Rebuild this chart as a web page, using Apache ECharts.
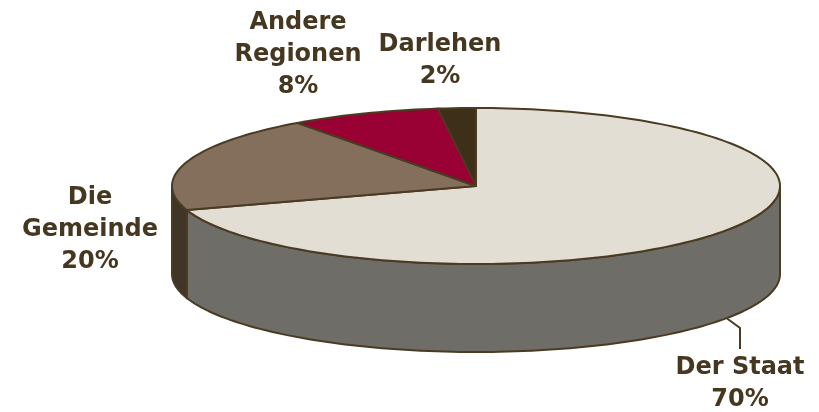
<!DOCTYPE html>
<html>
<head>
<meta charset="utf-8">
<script src="https://cdn.jsdelivr.net/npm/echarts@6/dist/echarts.min.js"></script>
<style>
  html, body { margin: 0; padding: 0; background: #fff; }
  #chart { width: 819px; height: 412px; }
</style>
</head>
<body>
<div id="chart"></div>
<script>
// Anteile (Prozent)
var names = ["Der Staat", "Die\nGemeinde", "Andere\nRegionen", "Darlehen"];
var values = [70, 20, 8, 2];
var pctLabels = ["70%", "20%", "8%", "2%"];

// Farben Oberseite / Seitenwand
var topColors = ["#e2ded4", "#836f5c", "#990033", "#3e3018"];
var sideColors = ["#6e6d67", "#3f3528", "#5c001f", "#2a2010"];
var edgeColor = "#4a3b22";
var textColor = "#463820";

// Ellipsen-Geometrie
var cx = 476, cy = 186, rx = 304, ry = 78, depth = 88;

var total = values.reduce(function (a, b) { return a + b; }, 0);
var starts = [];
var acc = 0;
values.forEach(function (v) { starts.push(acc / total * 360); acc += v; });

function rim(deg, dy) {
  var r = deg * Math.PI / 180;
  return [cx + rx * Math.sin(r), cy - ry * Math.cos(r) + (dy || 0)];
}

function arc(a0, a1, dy) {
  var pts = [];
  var n = Math.max(2, Math.ceil((a1 - a0) / 1.5));
  for (var i = 0; i <= n; i++) pts.push(rim(a0 + (a1 - a0) * i / n, dy));
  return pts;
}

var chart = echarts.init(document.getElementById("chart"));

var option = {
  backgroundColor: "#fff",
  animation: false,
  series: [
    {
      type: "custom",
      coordinateSystem: "none",
      data: values,
      renderItem: function (params, api) {
        var i = params.dataIndex;
        var a0 = starts[i];
        var a1 = a0 + api.value(0) / total * 360;
        var children = [];
        // Seitenwand (nur vorne sichtbar: 90..270 Grad)
        var s0 = Math.max(a0, 90), s1 = Math.min(a1, 270);
        if (s1 > s0) {
          var upper = arc(s0, s1, 0);
          var lower = arc(s0, s1, depth).reverse();
          children.push({
            type: "polygon",
            shape: { points: upper.concat(lower) },
            style: { fill: sideColors[i], stroke: edgeColor, lineWidth: 2, lineJoin: "round" }
          });
        }
        // Oberseite
        children.push({
          type: "polygon",
          shape: { points: [[cx, cy]].concat(arc(a0, a1, 0)) },
          style: { fill: topColors[i], stroke: edgeColor, lineWidth: 2, lineJoin: "round" }
        });
        return { type: "group", children: children };
      }
    }
  ],
  graphic: []
};

// Beschriftungen
var labelPos = [[740, 384], [90, 230], [298, 55], [440, 61]];
names.forEach(function (n, i) {
  option.graphic.push({
    type: "text",
    x: labelPos[i][0],
    y: labelPos[i][1],
    style: {
      text: n + "\n" + pctLabels[i],
      fill: textColor,
      font: "bold 24px 'DejaVu Sans'",
      lineHeight: 32,
      align: "center",
      verticalAlign: "middle"
    }
  });
});

// Fuehrungslinie "Der Staat"
option.graphic.push({
  type: "polyline",
  shape: { points: [[725, 317], [740, 328], [740, 349]] },
  style: { stroke: edgeColor, lineWidth: 2, fill: null }
});

chart.setOption(option);
</script>
</body>
</html>
